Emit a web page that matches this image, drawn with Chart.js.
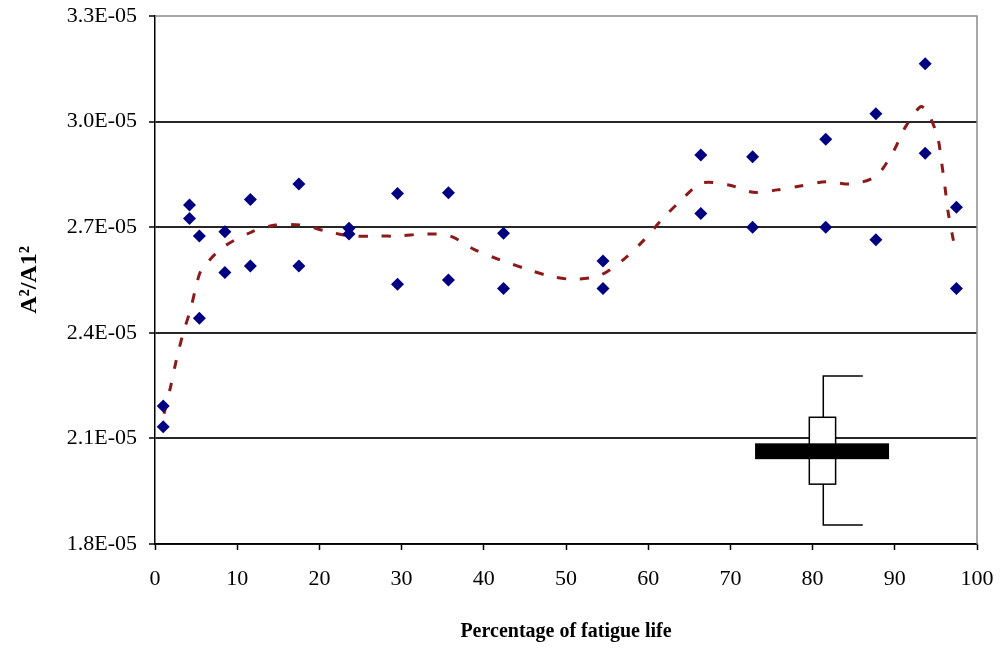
<!DOCTYPE html>
<html>
<head>
<meta charset="utf-8">
<script src="https://cdn.jsdelivr.net/npm/chart.js@4.4.1/dist/chart.umd.min.js"></script>
<style>
html,body{margin:0;padding:0;background:#fff;}
#wrap{width:1004px;height:652px;}
</style>
</head>
<body>
<div id="wrap"><canvas id="c" width="1004" height="652"></canvas></div>
<script>
// ---- data ----
const xTicks = [0,10,20,30,40,50,60,70,80,90,100];
const yTicks = [1.8e-5,2.1e-5,2.4e-5,2.7e-5,3.0e-5,3.3e-5];
const yTickLabels = ['1.8E-05','2.1E-05','2.4E-05','2.7E-05','3.0E-05','3.3E-05'];

const fatigueX = [1.0,1.0, 4.2,4.2, 5.4,5.4, 8.5,8.5, 11.6,11.6, 17.5,17.5, 23.6,23.6,
                  29.5,29.5, 35.7,35.7, 42.4,42.4, 54.5,54.5, 66.4,66.4, 72.7,72.7,
                  81.6,81.6, 87.7,87.7, 93.7,93.7, 97.5,97.5];
const ratioY = [2.192e-5,2.133e-5, 2.763e-5,2.725e-5, 2.675e-5,2.441e-5, 2.687e-5,2.571e-5,
                2.779e-5,2.590e-5, 2.823e-5,2.590e-5, 2.697e-5,2.681e-5, 2.796e-5,2.538e-5,
                2.798e-5,2.550e-5, 2.683e-5,2.526e-5, 2.604e-5,2.526e-5, 2.905e-5,2.739e-5,
                2.900e-5,2.700e-5, 2.950e-5,2.700e-5, 3.022e-5,2.664e-5, 3.164e-5,2.910e-5,
                2.757e-5,2.526e-5];

const trendX = [1.1,1.9,2.6,3.4,4.3,5.1,5.6,8.1,11.8,14.7,17.7,20.8,23.7,26.8,29.7,32.8,35.9,
                38.8,42.0,45.6,48.4,51.2,54.2,57.2,59.5,61.6,63.8,66.5,69.8,72.8,75.7,78.7,
                81.7,84.8,87.7,89.8,91.3,93.1,93.9,95.2,95.7,96.1,96.5,97.1,97.4];
const trendY = [2.17e-5,2.247e-5,2.323e-5,2.397e-5,2.465e-5,2.541e-5,2.576e-5,2.640e-5,2.687e-5,
                2.706e-5,2.706e-5,2.689e-5,2.675e-5,2.675e-5,2.675e-5,2.681e-5,2.675e-5,2.637e-5,
                2.607e-5,2.578e-5,2.559e-5,2.552e-5,2.564e-5,2.612e-5,2.664e-5,2.720e-5,2.772e-5,
                2.825e-5,2.820e-5,2.799e-5,2.806e-5,2.818e-5,2.829e-5,2.823e-5,2.845e-5,2.914e-5,
                2.985e-5,3.042e-5,3.031e-5,2.957e-5,2.883e-5,2.815e-5,2.741e-5,2.666e-5,2.63e-5];

// box-and-whisker style key glyph (data units)
const glyphWhiskerX = [81.3, 86.1];
const glyphWhiskerY = [2.277e-5, 1.854e-5];
const glyphBoxX = [79.6, 82.8];
const glyphBoxY = [2.160e-5, 1.970e-5];
const glyphBarX = [73.0, 89.3];
const glyphBarY = [2.086e-5, 2.041e-5];

const SERIF = "'Liberation Serif','Times New Roman',serif";
Chart.defaults.font.family = SERIF;
Chart.defaults.color = '#000';

const framePlugin = {
  id: 'frame',
  beforeDraw(chart){
    const c = chart.ctx;
    c.save(); c.fillStyle = '#fff'; c.fillRect(0,0,chart.width,chart.height); c.restore();
  },
  afterDatasetsDraw(chart){
    const {ctx, chartArea:a, scales:{x, y}} = chart;
    ctx.save();
    // top / right frame
    ctx.strokeStyle = '#8a8a8a'; ctx.lineWidth = 1.5;
    ctx.beginPath();
    ctx.moveTo(a.left, a.top); ctx.lineTo(a.right, a.top); ctx.lineTo(a.right, a.bottom);
    ctx.stroke();
    // glyph
    ctx.strokeStyle = '#000'; ctx.lineWidth = 1.5;
    const wx0 = x.getPixelForValue(glyphWhiskerX[0]), wx1 = x.getPixelForValue(glyphWhiskerX[1]);
    const wyT = y.getPixelForValue(glyphWhiskerY[0]), wyB = y.getPixelForValue(glyphWhiskerY[1]);
    ctx.beginPath();
    ctx.moveTo(wx1, wyT); ctx.lineTo(wx0, wyT); ctx.lineTo(wx0, wyB); ctx.lineTo(wx1, wyB);
    ctx.stroke();
    const bx0 = x.getPixelForValue(glyphBoxX[0]), bx1 = x.getPixelForValue(glyphBoxX[1]);
    const by0 = y.getPixelForValue(glyphBoxY[0]), by1 = y.getPixelForValue(glyphBoxY[1]);
    ctx.fillStyle = '#fff';
    ctx.fillRect(bx0, by0, bx1-bx0, by1-by0);
    ctx.strokeRect(bx0, by0, bx1-bx0, by1-by0);
    const rx0 = x.getPixelForValue(glyphBarX[0]), rx1 = x.getPixelForValue(glyphBarX[1]);
    const ry0 = y.getPixelForValue(glyphBarY[0]), ry1 = y.getPixelForValue(glyphBarY[1]);
    ctx.fillStyle = '#000';
    ctx.fillRect(rx0, ry0, rx1-rx0, ry1-ry0);
    ctx.restore();
  }
};

new Chart(document.getElementById('c'), {
  type: 'scatter',
  data: {
    datasets: [
      {
        label: 'A2/A1^2',
        data: fatigueX.map((v,i)=>({x:v, y:ratioY[i]})),
        pointStyle: 'rectRot',
        pointRadius: 6.5,
        pointHoverRadius: 6.5,
        backgroundColor: '#000080',
        borderColor: '#000080',
        borderWidth: 0,
        showLine: false
      },
      {
        label: 'trend',
        type: 'line',
        data: trendX.map((v,i)=>({x:v, y:trendY[i]})),
        borderColor: '#8B1A1A',
        borderWidth: 3,
        borderDash: [9, 14],
        pointRadius: 0,
        tension: 0.3,
        fill: false
      }
    ]
  },
  options: {
    responsive: false,
    animation: false,
    layout: { padding: { top: 16, right: 27, left: 0, bottom: 0 } },
    plugins: { legend: { display: false }, tooltip: { enabled: false } },
    scales: {
      x: {
        type: 'linear', min: 0, max: 100,
        afterBuildTicks: s => { s.ticks = xTicks.map(v=>({value:v})); },
        afterFit: s => { s.height = 108; s.paddingLeft = 0; s.paddingRight = 0; },
        grid: { drawOnChartArea: false, drawTicks: true, tickLength: 6, tickColor: '#000', tickWidth: 1.5 },
        border: { display: true, color: '#000', width: 1.5 },
        ticks: { padding: 16, font: { size: 22, family: SERIF }, color: '#000', maxRotation: 0 },
        title: { display: true, text: 'Percentage of fatigue life', font: { size: 20, weight: 'bold', family: SERIF }, padding: { top: 0, bottom: 8 }, color: '#000' }
      },
      y: {
        type: 'linear', min: 1.8e-5, max: 3.3e-5,
        afterBuildTicks: s => { s.ticks = yTicks.map(v=>({value:v})); },
        afterFit: s => { s.width = 155; s.paddingTop = 0; s.paddingBottom = 0; },
        grid: {
          color: ctx => (ctx.tick && Math.abs(ctx.tick.value - 3.3e-5) < 1e-9) ? 'rgba(0,0,0,0)' : '#262626',
          lineWidth: 2, tickLength: 6, tickColor: '#000', tickWidth: 1.5
        },
        border: { display: true, color: '#000', width: 1.5 },
        ticks: { padding: 12, font: { size: 22, family: SERIF }, color: '#000',
                 callback: (v, i) => yTickLabels[i] },
        title: { display: true, text: 'A²/A1²', font: { size: 24, weight: 'bold', family: SERIF }, padding: { top: 15, bottom: 0 }, color: '#000' }
      }
    }
  },
  plugins: [framePlugin]
});
</script>
</body>
</html>
